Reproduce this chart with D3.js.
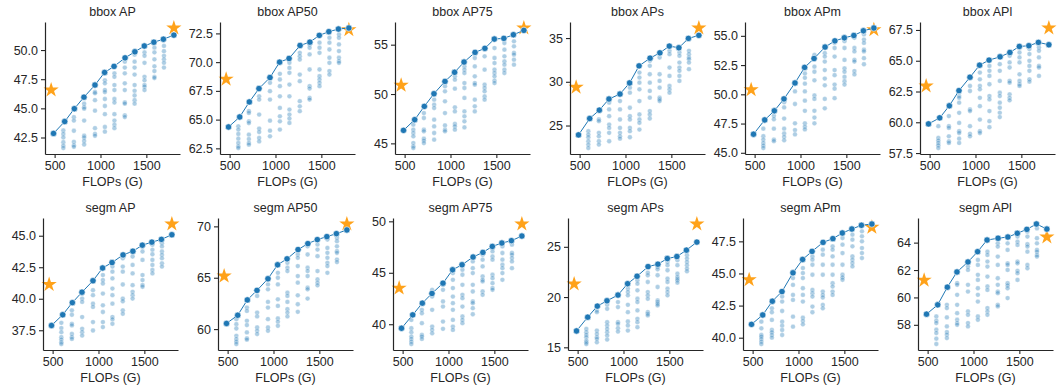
<!DOCTYPE html>
<html>
<head>
<meta charset="utf-8">
<script src="https://cdn.jsdelivr.net/npm/d3@7"></script>
<style>
  body { margin: 0; background: #fff; }
  text { font-family: "Liberation Sans", Arial, sans-serif; }
</style>
</head>
<body>
<svg id="chart" width="1060" height="390"></svg>
<script>
// shared x positions (GFLOPs)
const frontX = [488, 610, 715, 820, 940, 1045, 1148, 1268, 1375, 1478, 1582, 1686, 1800];
const starX = [462, 1800];
const cloudX = [595, 710, 822, 940, 1048, 1152, 1265, 1372, 1480, 1588, 1692];
const xTicks = [500, 1000, 1500];

const titles = ["bbox AP", "bbox AP50", "bbox AP75", "bbox APs", "bbox APm", "bbox APl",
                "segm AP", "segm AP50", "segm AP75", "segm APs", "segm APm", "segm APl"];

const yTicks = [
  [42.5, 45, 47.5, 50], [62.5, 65, 67.5, 70, 72.5], [45, 50, 55], [25, 30, 35],
  [45, 47.5, 50, 52.5, 55], [57.5, 60, 62.5, 65, 67.5],
  [37.5, 40, 42.5, 45], [60, 65, 70], [40, 45, 50], [15, 20, 25],
  [40, 42.5, 45, 47.5], [58, 60, 62, 64]
];
const yFormats = [".1f", ".1f", "d", "d", ".1f", ".1f", ".1f", "d", "d", "d", ".1f", "d"];

// pareto front per metric
const frontBoxAP   = [42.85, 43.87, 44.97, 45.96, 47.0, 48.08, 48.6, 49.33, 49.85, 50.35, 50.67, 50.93, 51.28];
const frontBoxAP50 = [64.36, 65.23, 66.54, 67.7, 68.66, 70.0, 70.32, 71.45, 71.74, 72.33, 72.65, 72.88, 72.97];
const frontBoxAP75 = [46.32, 47.4, 48.75, 50.03, 51.28, 52.2, 53.24, 54.22, 54.63, 55.57, 55.64, 56.01, 56.45];
const frontBoxAPs  = [23.93, 25.8, 26.76, 28.03, 28.6, 29.87, 31.82, 32.7, 33.31, 34.08, 33.89, 34.96, 35.31];
const frontBoxAPm  = [46.59, 47.81, 48.59, 49.61, 50.97, 52.3, 53.06, 54.04, 54.57, 54.83, 55.03, 55.43, 55.67];
const frontBoxAPl  = [59.87, 60.36, 61.34, 62.57, 63.66, 64.64, 65.05, 65.32, 65.67, 66.16, 66.22, 66.49, 66.3];
const frontSegAP   = [37.88, 38.73, 39.69, 40.52, 41.43, 42.44, 42.87, 43.48, 43.77, 44.25, 44.49, 44.71, 45.08];
const frontSegAP50 = [60.55, 61.35, 62.84, 63.77, 64.9, 66.26, 66.84, 67.74, 68.32, 68.71, 69.0, 69.29, 69.65];
const frontSegAP75 = [39.61, 40.91, 42.05, 42.99, 43.99, 45.29, 45.78, 46.53, 46.98, 47.56, 47.89, 48.12, 48.57];
const frontSegAPs  = [16.63, 18.0, 19.1, 19.63, 20.2, 21.33, 22.07, 23.03, 23.27, 23.83, 24.03, 24.67, 25.47];
const frontSegAPm  = [41.04, 41.77, 42.84, 43.59, 45.05, 46.09, 46.72, 47.42, 47.71, 48.15, 48.46, 48.75, 48.85];
const frontSegAPl  = [58.78, 59.46, 60.75, 61.86, 62.59, 63.34, 64.19, 64.32, 64.41, 64.68, 64.97, 65.36, 64.99];

// reference models (stars)
const starY = [
  [46.57, 51.89], [68.52, 72.82], [50.88, 56.69], [29.37, 36.15], [50.39, 55.52], [62.95, 67.66],
  [41.13, 45.93], [65.16, 70.23], [43.51, 49.74], [21.3, 27.27], [44.51, 48.59], [61.26, 64.41]
];

// sampled subnets, one list per FLOPs column
const cloudBoxAP = [
  [43.1, 42.8, 42.5, 42.1, 41.8, 41.6],
  [44.24, 43.95, 43.08, 42.12, 41.83, 41.7],
  [45.4, 45.1, 44.97, 43.95, 42.65, 42.5, 42.2, 41.9],
  [46.4, 46.3, 45.7, 44.8, 43.3, 42.8, 42.65],
  [47.4, 47.15, 46.57, 46.4, 45.8, 45.2, 44.5, 43.4, 43.0],
  [48.0, 47.7, 47.0, 46.57, 45.8, 45.5, 44.5, 43.95, 43.6, 43.3],
  [49.0, 48.5, 48.0, 47.15, 46.57, 45.5, 45.4, 44.4, 44.25],
  [49.6, 49.0, 48.5, 47.9, 47.0, 46.5, 46.1, 45.7, 45.4],
  [49.8, 49.5, 48.9, 47.7, 47.4, 47.0, 46.86, 46.57],
  [50.2, 49.8, 49.2, 48.6, 48.2, 47.7, 47.6],
  [50.35, 49.9, 49.5, 49.2, 48.9, 48.5]
];
const cloudBoxAP50 = [
  [64.42, 64.13, 63.75, 63.34, 62.97, 62.67, 62.53],
  [65.73, 65.58, 64.85, 64.7, 63.69, 63.31, 62.97, 62.82],
  [67.62, 67.03, 66.74, 65.44, 64.22, 63.92, 63.4, 63.1],
  [68.2, 67.47, 66.74, 64.91, 64.04, 63.55],
  [68.98, 68.49, 67.91, 67.03, 66.02, 65.29, 64.85, 64.13],
  [69.94, 69.5, 69.07, 68.05, 67.03, 65.87, 65.44, 65.09, 64.71],
  [70.81, 70.52, 70.23, 68.92, 68.34, 66.6, 66.16, 65.73],
  [71.54, 71.25, 70.67, 69.36, 67.91, 67.7, 66.89, 66.74],
  [71.69, 71.25, 70.81, 69.36, 68.78, 68.49, 68.2, 67.91],
  [72.12, 71.69, 71.1, 70.38, 69.94, 69.22, 68.92],
  [72.41, 72.12, 71.54, 70.96, 70.38, 70.09, 69.94]
];
const cloudBoxAP75 = [
  [46.89, 46.39, 46.05, 45.71, 45.03, 44.7, 44.53],
  [48.07, 47.57, 46.39, 46.22, 45.47, 45.27, 45.03],
  [49.43, 48.92, 48.58, 47.4, 46.72, 46.05, 45.37],
  [50.78, 50.27, 49.26, 48.07, 46.82, 46.39, 46.22],
  [51.79, 51.45, 50.54, 48.65, 48.24, 46.96, 46.72, 46.39],
  [52.8, 52.47, 52.13, 51.11, 50.61, 49.6, 48.24, 47.74, 47.23, 46.62],
  [53.65, 52.8, 51.79, 51.11, 50.95, 49.43, 48.75, 48.24],
  [54.49, 53.82, 52.47, 50.95, 50.61, 50.27, 49.76, 49.43],
  [54.66, 53.65, 53.14, 52.47, 52.13, 51.79, 51.35, 51.11],
  [55.17, 54.49, 53.82, 53.31, 52.97, 52.47, 52.13],
  [55.34, 54.83, 54.16, 53.99, 53.48, 52.97]
];
const cloudBoxAPs = [
  [24.35, 23.97, 23.66, 23.2, 22.82, 22.43],
  [25.69, 25.5, 24.16, 23.77, 23.2, 22.82],
  [27.61, 26.84, 26.07, 25.11, 24.73, 24.16, 23.2],
  [27.8, 26.84, 25.69, 24.73, 24.16, 23.77, 23.5],
  [29.33, 28.75, 27.03, 26.07, 25.69, 24.73, 24.35, 23.66],
  [31.05, 30.48, 29.9, 29.14, 27.8, 26.26, 25.69, 25.31, 24.54],
  [32.4, 31.82, 30.86, 29.9, 28.95, 28.18, 26.65, 26.26, 25.8],
  [32.78, 30.86, 30.1, 29.33, 28.18, 27.99, 27.8],
  [33.54, 33.16, 31.63, 30.67, 29.52, 29.14, 28.75],
  [33.35, 32.97, 32.2, 31.63, 31.25, 30.67, 30.1],
  [33.54, 33.16, 32.78, 32.59, 32.2, 31.44]
];
const cloudBoxAPm = [
  [47.06, 46.42, 46.13, 45.84, 45.61, 45.41],
  [48.16, 47.87, 47.06, 46.13, 45.99],
  [49.32, 48.88, 47.93, 47.06, 46.65, 46.36, 46.07],
  [50.91, 50.25, 49.17, 47.52, 46.94, 46.57],
  [51.78, 51.41, 50.91, 50.25, 49.46, 48.59, 47.52, 47.23, 47.0],
  [53.38, 53.09, 52.36, 51.93, 51.2, 49.9, 49.61, 48.59, 48.01, 47.52],
  [53.52, 53.23, 52.8, 52.07, 51.35, 50.77, 49.61, 48.8],
  [54.39, 53.96, 53.23, 52.07, 51.64, 50.83, 50.48, 49.67],
  [54.54, 53.96, 52.94, 52.22, 51.93, 51.49, 51.12, 50.83],
  [54.83, 53.96, 53.67, 52.94, 52.8, 51.99, 51.7],
  [55.12, 54.68, 54.39, 53.81, 53.67, 53.09, 52.57]
];
const cloudBoxAPl = [
  [59.68, 58.73, 58.51, 58.32, 58.13, 57.91],
  [60.5, 59.68, 59.54, 58.86, 58.45, 58.32],
  [62.13, 61.99, 61.59, 60.77, 59.95, 59.27, 59.13, 58.67, 58.32],
  [62.95, 62.54, 61.04, 60.91, 59.68, 59.05, 58.86],
  [64.04, 63.49, 62.95, 62.68, 61.99, 61.31, 60.22, 59.27, 59.13],
  [64.58, 64.18, 63.77, 63.09, 62.13, 61.86, 60.91, 60.09, 59.6],
  [64.72, 64.18, 63.36, 62.4, 62.13, 61.59, 61.18, 60.77, 60.42],
  [65.4, 64.86, 64.45, 63.36, 63.22, 62.27, 61.99, 61.78],
  [65.67, 65.27, 64.86, 63.9, 63.36, 63.09, 62.95],
  [65.95, 65.54, 64.99, 64.58, 64.18, 63.49, 63.3],
  [66.08, 65.81, 65.27, 64.58, 64.45, 63.77]
];
const cloudSegAP = [
  [38.09, 37.67, 37.35, 36.95, 36.76, 36.55, 36.41],
  [39.08, 38.73, 38.01, 37.88, 37.21, 36.95, 36.81],
  [40.41, 40.01, 39.75, 38.55, 37.61, 37.35, 37.08],
  [40.68, 40.28, 39.61, 39.35, 38.15, 37.48],
  [41.88, 41.48, 41.21, 40.41, 39.48, 38.95, 38.15, 37.75],
  [42.55, 42.15, 41.61, 40.81, 40.28, 39.61, 38.55, 38.36, 38.01],
  [43.21, 42.55, 42.15, 41.13, 40.01, 39.8, 39.08, 38.81],
  [43.35, 42.68, 42.01, 41.08, 40.55, 40.28, 40.01],
  [44.15, 43.75, 43.08, 41.88, 41.48, 41.08, 40.95],
  [44.28, 43.88, 43.53, 43.08, 42.68, 42.28, 42.01],
  [44.41, 44.15, 43.75, 43.48, 43.21, 42.81, 42.55]
];
const cloudSegAP50 = [
  [60.97, 60.48, 60.06, 59.35, 59.03, 58.77, 58.55],
  [62.1, 61.77, 60.81, 60.39, 59.68, 59.1, 58.97],
  [63.71, 63.23, 61.61, 61.23, 60.16, 59.84, 59.52],
  [64.35, 63.87, 62.65, 62.1, 60.97, 60.16, 59.84],
  [65.48, 65.0, 64.35, 62.9, 62.26, 61.03, 60.71, 60.32],
  [66.45, 65.97, 65.65, 63.55, 63.23, 62.65, 61.94, 61.61, 61.23],
  [67.26, 66.94, 66.13, 65.16, 64.52, 63.29, 62.42, 61.68],
  [68.06, 67.26, 65.97, 65.65, 65.16, 64.03, 63.87, 62.97],
  [68.23, 67.74, 67.1, 65.65, 64.84, 64.52, 64.26],
  [68.71, 67.9, 67.42, 66.94, 66.45, 66.13, 65.48],
  [68.87, 68.55, 68.06, 67.58, 67.42, 66.77, 66.52]
];
const cloudSegAP75 = [
  [40.42, 39.61, 39.22, 38.8, 38.57, 38.31, 38.08],
  [41.4, 41.07, 40.1, 38.96, 38.8, 38.57],
  [43.34, 43.02, 42.69, 41.4, 39.77, 39.45, 39.12],
  [43.83, 43.34, 42.21, 41.72, 40.26, 39.55],
  [44.97, 44.32, 43.51, 42.69, 42.05, 41.4, 40.42, 39.77, 39.45],
  [45.29, 44.81, 43.83, 42.86, 42.53, 41.72, 40.75, 40.42, 40.1],
  [46.1, 45.45, 44.97, 43.83, 43.18, 42.21, 42.05, 41.56, 40.97],
  [46.75, 46.27, 45.62, 44.64, 44.32, 44.16, 43.18, 42.86],
  [47.4, 47.08, 46.59, 46.27, 44.81, 44.48, 43.99, 43.51, 43.34],
  [47.56, 46.92, 46.27, 45.78, 45.45, 44.97, 44.32],
  [47.73, 46.92, 46.75, 46.43, 46.1, 45.45]
];
const cloudSegAPs = [
  [16.83, 16.5, 16.23, 16.0, 15.67, 15.5, 15.33],
  [18.67, 18.5, 16.67, 16.33, 16.0, 15.83, 15.5],
  [19.23, 18.83, 17.5, 17.17, 16.83, 16.5, 16.17, 15.77],
  [19.5, 19.0, 17.5, 17.33, 16.9, 16.57],
  [20.83, 20.5, 20.17, 19.23, 18.5, 17.57, 17.17, 16.67],
  [21.67, 21.33, 20.67, 19.83, 19.5, 18.67, 17.83, 17.5, 17.0],
  [22.43, 22.17, 21.5, 20.5, 20.17, 19.83, 18.5, 18.33, 18.17],
  [23.0, 22.77, 22.17, 21.0, 19.67, 19.5, 19.33, 19.17],
  [23.5, 23.17, 22.67, 21.83, 21.5, 20.83, 20.5, 20.17],
  [23.67, 23.17, 22.33, 22.0, 21.83, 21.67, 21.43],
  [24.17, 23.83, 23.5, 23.17, 22.83, 22.57]
];
const cloudSegAPm = [
  [41.25, 40.73, 40.21, 40.08, 39.9, 39.69, 39.51],
  [42.29, 41.98, 41.38, 40.6, 40.42, 40.21, 40.0],
  [43.2, 42.81, 42.08, 41.25, 40.94, 40.6, 40.21],
  [44.64, 44.11, 43.33, 42.94, 41.64, 40.86],
  [45.42, 45.03, 44.64, 43.85, 43.33, 42.81, 41.56, 41.3, 41.04],
  [46.33, 46.07, 45.68, 44.9, 43.72, 43.46, 43.2, 42.42, 41.98],
  [46.85, 46.46, 45.68, 44.9, 43.59, 43.33, 43.13, 42.55, 42.29],
  [47.11, 46.85, 46.33, 45.68, 44.9, 44.24, 43.98, 43.59, 43.33],
  [47.76, 47.24, 46.59, 45.68, 44.9, 44.69, 44.51],
  [48.02, 47.63, 47.11, 46.33, 46.07, 45.81, 45.55],
  [48.28, 47.89, 47.5, 46.98, 46.59, 46.2]
];
const cloudSegAPl = [
  [58.61, 58.3, 58.13, 57.64, 57.4, 56.99, 56.6],
  [59.46, 59.22, 58.54, 57.88, 57.47, 57.28, 57.03],
  [61.04, 60.92, 60.19, 59.46, 58.85, 58.37, 58.13, 58.0],
  [62.25, 62.01, 60.92, 60.43, 58.98, 58.73, 58.13, 57.88],
  [62.74, 62.37, 61.65, 61.28, 60.67, 60.19, 59.7, 58.61, 58.37],
  [63.34, 63.1, 62.62, 62.25, 61.52, 60.8, 60.55, 59.22, 58.98, 58.73],
  [63.95, 63.71, 62.98, 62.37, 61.4, 60.92, 60.43, 60.31, 59.46, 59.34],
  [63.95, 63.47, 62.49, 62.37, 62.01, 61.04, 60.87, 60.67, 59.95],
  [64.44, 64.07, 63.83, 62.62, 62.49, 61.94, 61.77, 61.28],
  [64.8, 64.44, 63.88, 63.71, 63.34, 62.37, 62.13],
  [65.04, 64.32, 63.95, 63.47, 63.34, 63.1, 62.98]
];

const fronts = [frontBoxAP, frontBoxAP50, frontBoxAP75, frontBoxAPs, frontBoxAPm, frontBoxAPl,
                frontSegAP, frontSegAP50, frontSegAP75, frontSegAPs, frontSegAPm, frontSegAPl];
const clouds = [cloudBoxAP, cloudBoxAP50, cloudBoxAP75, cloudBoxAPs, cloudBoxAPm, cloudBoxAPl,
                cloudSegAP, cloudSegAP50, cloudSegAP75, cloudSegAPs, cloudSegAPm, cloudSegAPl];

const blue = "#1f77b4";
const orange = "#ffa21a";
const ink = "#262626";
const W = 135, H = 132;
const fontSize = "12.5px";

const svg = d3.select("#chart");

titles.forEach((title, i) => {
  const row = Math.floor(i / 6), col = i % 6;
  const left = (row === 0 ? 45 : 43) + col * 175;
  const top = row === 0 ? 22 : 218;
  const g = svg.append("g").attr("transform", `translate(${left},${top})`);

  const front = fronts[i], cloud = clouds[i], stars = starY[i];

  // matplotlib-like 5% margins
  const xe = d3.extent(frontX.concat(starX, cloudX));
  const ye = d3.extent(front.concat(stars, cloud.flat()));
  const xp = (xe[1] - xe[0]) * 0.05, yp = (ye[1] - ye[0]) * 0.05;

  const x = d3.scaleLinear().domain([xe[0] - xp, xe[1] + xp]).range([0, W]);
  const y = d3.scaleLinear().domain([ye[0] - yp, ye[1] + yp]).range([H, 0]);

  const pts = [];
  cloud.forEach((vals, k) => vals.forEach(v => pts.push([cloudX[k], v])));

  g.append("g").selectAll("circle")
    .data(pts)
    .enter().append("circle")
      .attr("cx", d => x(d[0]))
      .attr("cy", d => y(d[1]))
      .attr("r", 2.4)
      .attr("fill", blue)
      .attr("fill-opacity", 0.36)
      .attr("stroke", "#fff")
      .attr("stroke-opacity", 0.6)
      .attr("stroke-width", 0.5);

  g.append("g").selectAll("path")
    .data(stars)
    .enter().append("path")
      .attr("d", d3.symbol().type(d3.symbolStar).size(72))
      .attr("transform", (d, k) => `translate(${x(starX[k])},${y(d)})`)
      .attr("fill", orange);

  const line = d3.line().x((d, k) => x(frontX[k])).y(d => y(d));
  g.append("path")
    .datum(front)
    .attr("d", line)
    .attr("fill", "none")
    .attr("stroke", blue)
    .attr("stroke-width", 1);

  g.append("g").selectAll("circle")
    .data(front)
    .enter().append("circle")
      .attr("cx", (d, k) => x(frontX[k]))
      .attr("cy", d => y(d))
      .attr("r", 3.2)
      .attr("fill", blue)
      .attr("stroke", "#fff")
      .attr("stroke-width", 0.6);

  // axes
  const xAxis = g.append("g")
    .attr("transform", `translate(0,${H})`)
    .call(d3.axisBottom(x).tickValues(xTicks).tickFormat(d3.format("d"))
      .tickSize(4).tickSizeOuter(0).tickPadding(3));
  const yAxis = g.append("g")
    .call(d3.axisLeft(y).tickValues(yTicks[i]).tickFormat(d3.format(yFormats[i]))
      .tickSize(4).tickSizeOuter(0).tickPadding(3));

  [xAxis, yAxis].forEach(a => {
    a.select(".domain").attr("stroke", ink).attr("stroke-width", 1.2);
    a.selectAll(".tick line").attr("stroke", ink).attr("stroke-width", 1.1);
    a.selectAll(".tick text").attr("fill", ink).style("font-size", fontSize)
      .style("font-family", '"Liberation Sans", Arial, sans-serif');
  });

  g.append("text")
    .attr("x", W / 2)
    .attr("y", -6)
    .attr("text-anchor", "middle")
    .attr("fill", ink)
    .style("font-size", fontSize)
    .text(title);

  g.append("text")
    .attr("x", W / 2)
    .attr("y", H + 32)
    .attr("text-anchor", "middle")
    .attr("fill", ink)
    .style("font-size", fontSize)
    .text("FLOPs (G)");
});
</script>
</body>
</html>
